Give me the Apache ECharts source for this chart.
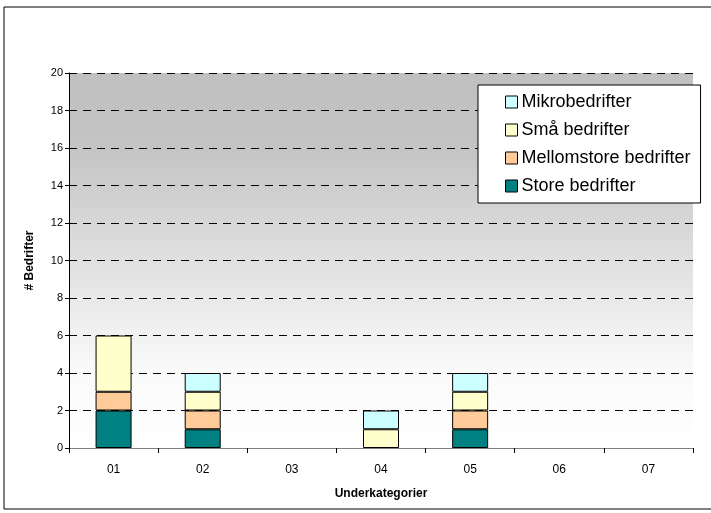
<!DOCTYPE html>
<html><head><meta charset="utf-8">
<script src="https://cdn.jsdelivr.net/npm/echarts@6/dist/echarts.min.js"></script>
<style>html,body{margin:0;padding:0;background:#fff}#c{width:711px;height:513px}</style>
</head><body><div id="c"></div>
<script>
const categories = ['01','02','03','04','05','06','07'];
const store = [2,1,0,0,1,0,0];
const mellomstore = [1,1,0,0,1,0,0];
const sma = [3,1,0,1,1,0,0];
const mikro = [0,1,0,1,1,0,0];
const yTicks = [0,2,4,6,8,10,12,14,16,18,20];

const chart = echarts.init(document.getElementById('c'));
const F = '"Liberation Sans", Arial, sans-serif';
function ser(name, data, color){
  return {name, type:'bar', stack:'s', data: data.map(v=>v===0?null:v), barWidth:36,
    itemStyle:{color, borderColor:'#000', borderWidth:1}};
}
chart.setOption({
  animation:false,
  graphic:[{type:'rect', shape:{x:4,y:7,width:720,height:502}, style:{fill:null, stroke:'#000', lineWidth:1}, z:-10}],
  grid:{left:69, top:73, right:18, bottom:65, show:true, borderWidth:0,
    backgroundColor:new echarts.graphic.LinearGradient(0,0,0,1,[
      {offset:0,color:'#C0C0C0'},{offset:0.2,color:'#C4C4C4'},{offset:0.5,color:'#E0E0E0'},{offset:0.8,color:'#FAFAFA'},{offset:1,color:'#FFFFFF'}])},
  legend:{orient:'vertical', left:478, top:85, itemGap:10, itemWidth:12, itemHeight:12,
    padding:[8,10,8,27], backgroundColor:'#fff', borderColor:'#000', borderWidth:1,
    icon:'rect', itemStyle:{borderColor:'#000', borderWidth:1},
    textStyle:{fontFamily:F, fontSize:18, color:'#000', padding:[0,0,0,-1]},
    data:['Mikrobedrifter','Små bedrifter','Mellomstore bedrifter','Store bedrifter']},
  xAxis:{type:'category', data:categories, name:'Underkategorier', nameLocation:'middle', nameGap:40,
    nameTextStyle:{fontFamily:F, fontSize:12, fontWeight:'bold', color:'#000'},
    axisLine:{lineStyle:{color:'#808080'}}, axisTick:{show:true, length:5, lineStyle:{color:'#000'}},
    axisLabel:{fontFamily:F, fontSize:12, color:'#000', margin:16}},
  yAxis:{type:'value', min:0, max:20, interval:2, name:'# Bedrifter', nameLocation:'middle', nameGap:33,
    nameTextStyle:{fontFamily:F, fontSize:12, fontWeight:'bold', color:'#000'},
    axisLine:{show:true, lineStyle:{color:'#000'}}, axisTick:{show:true, length:4, lineStyle:{color:'#000'}},
    axisLabel:{fontFamily:F, fontSize:11, color:'#000', margin:6, formatter:v=>yTicks.includes(v)?String(v):''},
    splitLine:{show:true, lineStyle:{color:'#000', type:[8,6], width:1}}},
  series:[
    ser('Store bedrifter', store, '#008080'),
    ser('Mellomstore bedrifter', mellomstore, '#FFCC99'),
    ser('Små bedrifter', sma, '#FFFFCC'),
    ser('Mikrobedrifter', mikro, '#CCFFFF')
  ]
});
</script></body></html>
